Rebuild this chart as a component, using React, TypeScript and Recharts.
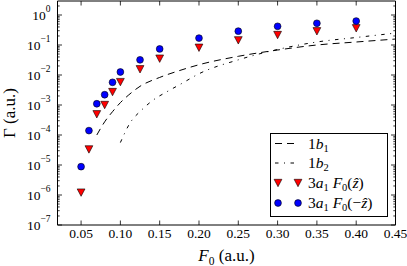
import React from "react";
import {
  ComposedChart,
  XAxis,
  YAxis,
  Line,
  Scatter,
  ReferenceArea,
  Legend,
  Label,
} from "recharts";

// ---- data ----
const xTickValues = [0.05, 0.1, 0.15, 0.2, 0.25, 0.3, 0.35, 0.4, 0.45];
const decadeExponents = [-7, -6, -5, -4, -3, -2, -1, 0];

const fieldStrengths = [0.05, 0.06, 0.07, 0.08, 0.09, 0.1, 0.125, 0.15, 0.2, 0.25, 0.3, 0.35, 0.4];
const gammaPlusZ = [1.2e-6, 3.3e-5, 4.9e-4, 1.0e-3, 2.7e-3, 5.8e-3, 1.55e-2, 3.5e-2, 8.1e-2, 0.143, 0.215, 0.286, 0.36];
const gammaMinusZ = [8.8e-6, 1.4e-4, 1.1e-3, 2.2e-3, 5.7e-3, 1.26e-2, 3.2e-2, 7.4e-2, 0.17, 0.29, 0.42, 0.53, 0.63];

const b1Field = [0.07, 0.08, 0.09, 0.1, 0.11, 0.125, 0.15, 0.175, 0.2, 0.25, 0.3, 0.35, 0.4, 0.45];
const b1Gamma = [1.0e-4, 2.75e-4, 6.0e-4, 1.2e-3, 2.1e-3, 4.2e-3, 8.3e-3, 1.4e-2, 2.2e-2, 4.2e-2, 6.8e-2, 1.0e-1, 1.26e-1, 1.58e-1];

const b2Field = [0.1, 0.112, 0.127, 0.142, 0.159, 0.178, 0.2, 0.25, 0.3, 0.35, 0.4, 0.45];
const b2Gamma = [5.6e-5, 2.45e-4, 6.8e-4, 1.48e-3, 2.75e-3, 5.2e-3, 1.1e-2, 3.2e-2, 7.1e-2, 1.26e-1, 1.78e-1, 2.5e-1];

const X_DOMAIN: [number, number] = [0.02, 0.45];
const Y_DOMAIN: [number, number] = [1e-7, 2.93];

// ---- derived tables ----
const plusData = fieldStrengths.map((x, i) => ({ x, y: gammaPlusZ[i] }));
const minusData = fieldStrengths.map((x, i) => ({ x, y: gammaMinusZ[i] }));
const b1Data = b1Field.map((x, i) => ({ x, y: b1Gamma[i] }));
const b2Data = b2Field.map((x, i) => ({ x, y: b2Gamma[i] }));

const yTicks: number[] = [];
decadeExponents.forEach((e) => {
  for (let k = 1; k <= 9; k++) {
    const v = k * Math.pow(10, e);
    if (v <= Y_DOMAIN[1]) yTicks.push(v);
  }
});

// ---- layout ----
const W = 407;
const H = 266;
const M = { top: 1, right: 11.5, bottom: 11, left: 7.5 };
const Y_AXIS_W = 50;
const X_AXIS_H = 30;
const PL = M.left + Y_AXIS_W;
const PR = W - M.right;
const PT = M.top;
const PB = H - M.bottom - X_AXIS_H;

const SERIF = { fontFamily: "Liberation Serif, DejaVu Serif, serif" };

const XTick = (props: any) => {
  const { x, payload } = props;
  return (
    <g>
      <line x1={x} x2={x} y1={PB} y2={PB - 4.5} stroke="#000" strokeWidth={0.8} />
      <line x1={x} x2={x} y1={PT} y2={PT + 4.5} stroke="#000" strokeWidth={0.8} />
      <text x={x} y={238} textAnchor="middle" fontSize={13.5} style={SERIF} fill="#000">
        {Number(payload.value).toFixed(2)}
      </text>
    </g>
  );
};

const YTick = (props: any) => {
  const { y, payload } = props;
  const v = payload.value as number;
  const lg = Math.log10(v);
  const e = Math.round(lg);
  const major = Math.abs(lg - e) < 1e-6;
  const len = major ? 4.5 : 2.2;
  return (
    <g>
      <line x1={PL} x2={PL + len} y1={y} y2={y} stroke="#000" strokeWidth={0.8} />
      <line x1={PR - len} x2={PR} y1={y} y2={y} stroke="#000" strokeWidth={0.8} />
      {major && (
        <text x={PL - 7} y={y + 4.5} textAnchor="end" fontSize={13.5} style={SERIF} fill="#000">
          10
          <tspan dy={-7.5} fontSize={9.5}>
            {e === 0 ? "0" : "\u2212" + String(-e)}
          </tspan>
        </text>
      )}
    </g>
  );
};

const DownTriangle = (props: any) => {
  const { cx, cy } = props;
  if (cx == null || cy == null) return null;
  const w = 3.9;
  const h = 3.7;
  return (
    <polygon
      points={`${cx - w},${cy - h} ${cx + w},${cy - h} ${cx},${cy + h}`}
      fill="#ff0000"
      stroke="#000"
      strokeWidth={0.6}
    />
  );
};

const BlueDot = (props: any) => {
  const { cx, cy } = props;
  if (cx == null || cy == null) return null;
  return <circle cx={cx} cy={cy} r={3.4} fill="#0000ff" stroke="#000" strokeWidth={0.6} />;
};

const LEG = { left: 270, top: 133, w: 118, h: 84 };

const LegendBox = () => {
  const rows = [10.5, 30, 50, 70];
  const tx = 38;
  const fs = 15.5;
  const sub = 10.5;
  return (
    <svg width={LEG.w} height={LEG.h} style={{ display: "block" }}>
      <rect x={0.5} y={0.5} width={LEG.w - 1} height={LEG.h - 1} fill="#fff" stroke="#000" strokeWidth={1} />
      <line x1={5} x2={29} y1={rows[0]} y2={rows[0]} stroke="#000" strokeDasharray="7 5" />
      <text x={tx} y={rows[0] + 5} fontSize={fs} style={SERIF}>
        1<tspan fontStyle="italic">b</tspan>
        <tspan fontSize={sub} dy={3}>1</tspan>
      </text>
      <line x1={5} x2={29} y1={rows[1]} y2={rows[1]} stroke="#000" strokeDasharray="3.5 5.5 1 5.5" />
      <text x={tx} y={rows[1] + 5} fontSize={fs} style={SERIF}>
        1<tspan fontStyle="italic">b</tspan>
        <tspan fontSize={sub} dy={3}>2</tspan>
      </text>
      <DownTriangle cx={8} cy={rows[2]} />
      <DownTriangle cx={28} cy={rows[2]} />
      <text x={tx} y={rows[2] + 5} fontSize={fs} style={SERIF}>
        3<tspan fontStyle="italic">a</tspan>
        <tspan fontSize={sub} dy={3}>1</tspan>
        <tspan dy={-3}> </tspan>
        <tspan fontStyle="italic">F</tspan>
        <tspan fontSize={sub} dy={3}>0</tspan>
        <tspan dy={-3}>(</tspan>
        <tspan fontStyle="italic">{"\u1E91"}</tspan>
        <tspan>)</tspan>
      </text>
      <BlueDot cx={8} cy={rows[3]} />
      <BlueDot cx={28} cy={rows[3]} />
      <text x={tx} y={rows[3] + 5} fontSize={fs} style={SERIF}>
        3<tspan fontStyle="italic">a</tspan>
        <tspan fontSize={sub} dy={3}>1</tspan>
        <tspan dy={-3}> </tspan>
        <tspan fontStyle="italic">F</tspan>
        <tspan fontSize={sub} dy={3}>0</tspan>
        <tspan dy={-3}>({"\u2212"}</tspan>
        <tspan fontStyle="italic">{"\u1E91"}</tspan>
        <tspan>)</tspan>
      </text>
    </svg>
  );
};

const XLabel = () => (
  <text x={(PL + PR) / 2} y={261} textAnchor="middle" fontSize={17} style={SERIF} fill="#000">
    <tspan fontStyle="italic">F</tspan>
    <tspan fontSize={11.5} dy={4}>0</tspan>
    <tspan dy={-4}> (a.u.)</tspan>
  </text>
);

const YLabel = () => (
  <text
    transform={`translate(15,${(PT + PB) / 2}) rotate(-90)`}
    textAnchor="middle"
    fontSize={17}
    style={SERIF}
    fill="#000"
  >
    {"\u0393 (a.u.)"}
  </text>
);

export default function App() {
  return (
    <div style={{ width: W, height: H }}>
      <style>{"html,body{margin:0;padding:0;background:#fff;}"}</style>
      <ComposedChart width={W} height={H} margin={M}>
        <XAxis
          type="number"
          dataKey="x"
          domain={X_DOMAIN}
          ticks={xTickValues}
          interval={0}
          allowDataOverflow
          tick={XTick}
          tickLine={false}
          axisLine={false}
          height={X_AXIS_H}
        >
          <Label content={XLabel} />
        </XAxis>
        <YAxis
          type="number"
          dataKey="y"
          scale="log"
          domain={Y_DOMAIN}
          ticks={yTicks}
          interval={0}
          allowDataOverflow
          tick={YTick}
          tickLine={false}
          axisLine={false}
          width={Y_AXIS_W}
        >
          <Label content={YLabel} />
        </YAxis>
        <Line
          data={b1Data}
          dataKey="y"
          type="monotone"
          stroke="#000"
          strokeWidth={1}
          strokeDasharray="7 5"
          dot={false}
          activeDot={false}
          name="1b1"
          isAnimationActive={false}
        />
        <Line
          data={b2Data}
          dataKey="y"
          type="monotone"
          stroke="#000"
          strokeWidth={1}
          strokeDasharray="3.5 5.5 1 5.5"
          dot={false}
          activeDot={false}
          name="1b2"
          isAnimationActive={false}
        />
        <Scatter data={plusData} dataKey="y" name="3a1 F0(z)" shape={DownTriangle} isAnimationActive={false} />
        <Scatter data={minusData} dataKey="y" name="3a1 F0(-z)" shape={BlueDot} isAnimationActive={false} />
        <ReferenceArea
          x1={X_DOMAIN[0]}
          x2={X_DOMAIN[1]}
          y1={Y_DOMAIN[0]}
          y2={Y_DOMAIN[1]}
          fill="none"
          fillOpacity={0}
          stroke="#000"
          strokeWidth={1}
          ifOverflow="visible"
        />
        <Legend
          layout="vertical"
          align="center"
          verticalAlign="middle"
          width={LEG.w}
          height={LEG.h}
          content={LegendBox}
          wrapperStyle={{ position: "absolute", left: LEG.left, top: LEG.top, width: LEG.w, height: LEG.h }}
        />
      </ComposedChart>
    </div>
  );
}
